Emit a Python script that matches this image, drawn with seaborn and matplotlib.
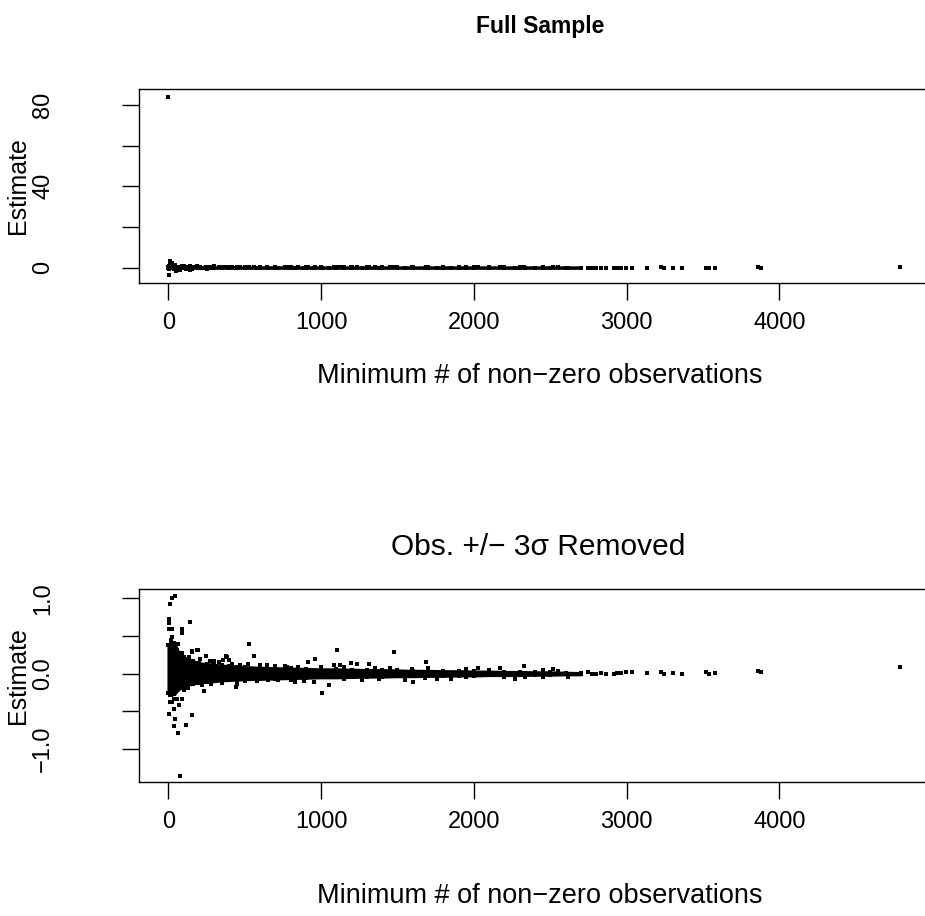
import matplotlib
matplotlib.use("Agg")
import matplotlib.pyplot as plt
import seaborn as sns
import pandas as pd

# ---------------- data ----------------
# envelope of the solid (over-plotted) core of the cloud
band_x = [0, 15, 40, 60, 80, 100, 130, 160, 200, 250, 300, 350, 400, 450, 500,
          600, 700, 800, 900, 1000, 1100, 1200, 1300, 1400, 1500, 1600, 1700,
          1800, 1900, 2000, 2100, 2200, 2300, 2400, 2500, 2600, 2700]
band_hi = [0.38, 0.43, 0.41, 0.31, 0.26, 0.22, 0.19, 0.17, 0.14, 0.13, 0.12, 0.11,
           0.10, 0.095, 0.09, 0.08, 0.075, 0.07, 0.065, 0.06, 0.06, 0.055, 0.05,
           0.05, 0.045, 0.04, 0.04, 0.035, 0.035, 0.03, 0.03, 0.025, 0.025, 0.02,
           0.02, 0.015, 0.01]
band_lo = [-0.26, -0.28, -0.27, -0.22, -0.19, -0.17, -0.15, -0.13, -0.12, -0.11,
           -0.10, -0.09, -0.085, -0.08, -0.075, -0.07, -0.065, -0.06, -0.055,
           -0.05, -0.05, -0.045, -0.04, -0.04, -0.035, -0.035, -0.03, -0.03,
           -0.025, -0.025, -0.02, -0.02, -0.02, -0.015, -0.015, -0.01, -0.01]

# individually visible points (3-sigma trimmed sample)
pts_x = [41, 21, 10, 4, 4, 141, 4, 21, 89, 89, 26, 17, 63, 526, 193, 152, 91,
         558, 245, 380, 134, 120, 360, 395, 295, 189, 156, 385, 297,
         448, 441, 232, 128, 102, 8, 37, 56, 89, 8, 26, 69, 37, 4, 152, 43,
         115, 37, 63, 76,
         1102, 1478, 963, 915, 1685, 1006, 1054, 1550, 1602, 1198, 1237, 1315,
         763, 648, 1087, 1124, 2326, 2174, 2515, 2026, 1598, 826, 889, 956,
         1270, 1759, 1848, 2268, 2333, 2618,
         210, 270, 330, 420, 470, 520, 600, 700, 780, 850, 1000, 1150, 1350,
         1450, 1700, 1950, 2100, 2450, 2550,
         220, 280, 350, 500, 580, 650, 720, 800, 1150, 1380, 1680, 1950, 2200,
         2450,
         2744, 2770, 2798, 2831, 2864, 2918, 2940, 2962, 2994, 3037, 3135,
         3222, 3244, 3303, 3363, 3520, 3540, 3579, 3859, 3879, 4792]
pts_y = [1.03, 1.00, 0.92, 0.73, 0.67, 0.69, 0.59, 0.59, 0.59, 0.54, 0.49, 0.45,
         0.39, 0.39, 0.32, 0.29, 0.28, 0.235, 0.235, 0.235, 0.225, 0.20, 0.18,
         0.18, 0.16, 0.32, 0.30, 0.225, 0.17,
         -0.137, -0.17, -0.23, -0.19, -0.22, -0.28, -0.33, -0.34, -0.34, -0.37,
         -0.37, -0.41, -0.47, -0.54, -0.55, -0.60, -0.68, -0.69, -0.79, -1.35,
         0.31, 0.29, 0.20, 0.155, 0.155, -0.26, -0.155, -0.085, -0.11, 0.14,
         0.125, 0.125, 0.10, 0.115, 0.115, 0.115, 0.10, 0.07, 0.06, 0.07, 0.06,
         -0.105, -0.10, -0.115, -0.085, -0.065, -0.075, -0.075, -0.05, -0.05,
         0.20, 0.17, 0.15, 0.13, 0.12, 0.13, 0.11, 0.10, 0.095, 0.09, 0.09,
         0.085, 0.08, 0.075, 0.07, 0.06, 0.05, 0.045, 0.04,
         -0.15, -0.14, -0.12, -0.10, -0.10, -0.09, -0.085, -0.09, -0.075,
         -0.07, -0.06, -0.05, -0.045, -0.04,
         0.02, 0.0, 0.0, 0.005, 0.0, 0.0, 0.005, 0.01, 0.02, 0.02, 0.005,
         0.025, 0.0, 0.01, 0.0, 0.02, -0.01, 0.005, 0.035, 0.02, 0.085]

# extra points present only in the full sample
full_extra_x = [0, 4, 8, 25, 12, 35, 50, 70, 100, 140, 190, 250, 300]
full_extra_y = [83.7, -3.9, 3.1, 2.0, 1.5, 1.2, -1.6, -1.2, 1.0, -1.0, 0.9, -0.8, 0.7]

x_ticks = [0, 1000, 2000, 3000, 4000]
top_y_ticks = [0, 20, 40, 60, 80]
top_y_labels = ["0", "", "40", "", "80"]
bot_y_ticks = [-1.0, -0.5, 0.0, 0.5, 1.0]
bot_y_labels = ["\u22121.0", "", "0.0", "", "1.0"]

title_top = "Full Sample"
title_bot = "Obs. +/\u2212 3\u03c3 Removed"
xlabel = "Minimum # of non\u2212zero observations"
ylabel = "Estimate"

# ---------------- drawing ----------------
sns.set_theme(style="white")
plt.rcParams["font.family"] = ["Liberation Sans", "DejaVu Sans"]
plt.rcParams["text.color"] = "black"
plt.rcParams["xtick.color"] = "black"
plt.rcParams["ytick.color"] = "black"

W, H = 925, 916
fig = plt.figure(figsize=(W / 100, H / 100), dpi=100)

def px_axes(left, top, right, bottom):
    return fig.add_axes([left / W, 1 - bottom / H, (right - left) / W, (bottom - top) / H])

ax1 = px_axes(139, 89, 931, 283)
ax2 = px_axes(139, 589, 931, 782)

pts = pd.DataFrame({"x": pts_x, "y": pts_y})
full = pd.concat([pts, pd.DataFrame({"x": full_extra_x, "y": full_extra_y})],
                 ignore_index=True)
band = pd.DataFrame({"x": band_x, "hi": band_hi, "lo": band_lo})

MS = 5.5
for ax, df in [(ax1, full), (ax2, pts)]:
    ax.fill_between(band["x"], band["lo"], band["hi"], color="black",
                    edgecolor="black", linewidth=2.0)
    sns.scatterplot(data=band, x="x", y="hi", ax=ax, marker="s", s=MS,
                    color="black", edgecolor="black", linewidth=0)
    sns.scatterplot(data=band, x="x", y="lo", ax=ax, marker="s", s=MS,
                    color="black", edgecolor="black", linewidth=0)
    sns.scatterplot(data=df, x="x", y="y", ax=ax, marker="s", s=MS,
                    color="black", edgecolor="black", linewidth=0)
    ax.set_xlim(-192, 4992)
    ax.set_xticks(x_ticks)
    ax.set_xticklabels([str(t) for t in x_ticks])
    ax.set_xlabel("")
    ax.set_ylabel("")
    for s in ax.spines.values():
        s.set_color("black")
        s.set_linewidth(1.0)
    ax.tick_params(axis="both", direction="out", length=12, width=1.0,
                   colors="black", labelcolor="black", labelsize=17,
                   bottom=True, left=True)
    ax.tick_params(axis="x", pad=9)
    ax.tick_params(axis="y", pad=57)

ax1.set_ylim(-7.6, 87.8)
ax1.set_yticks(top_y_ticks)
ax1.set_yticklabels(top_y_labels)
ax2.set_ylim(-1.436, 1.123)
ax2.set_yticks(bot_y_ticks)
ax2.set_yticklabels(bot_y_labels)
for ax in (ax1, ax2):
    for lab in ax.get_yticklabels():
        lab.set_rotation(90)
        lab.set_va("center")
        lab.set_ha("center")

def ftext(x, y, s, **kw):
    fig.text(x / W, 1 - y / H, s, ha="center", va="center", color="black", **kw)

ftext(540, 26, title_top, fontsize=16.5, fontweight="bold")
ftext(538, 547, title_bot, fontsize=21.5)
ftext(540, 376, xlabel, fontsize=19.5)
ftext(540, 896, xlabel, fontsize=19.5)
ftext(18, 186, ylabel, fontsize=18, rotation=90)
ftext(18, 676, ylabel, fontsize=18, rotation=90)

fig.savefig("out.png", dpi=100, facecolor="white")
